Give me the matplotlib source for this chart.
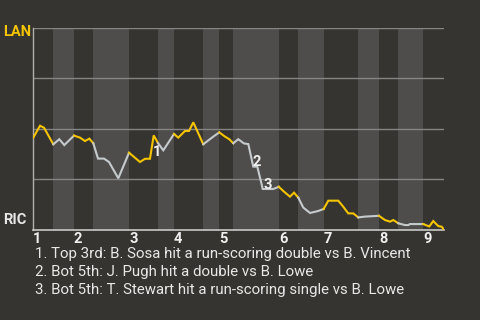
import matplotlib
matplotlib.use("Agg")
import matplotlib.pyplot as plt

# win probability for LAN (%) at each play, x = play number
play = [0, 1.40, 2.24, 4.19, 5.44, 6.49, 8.52, 9.78, 10.82, 11.73, 12.56,
        13.55, 14.80, 15.85, 17.80, 20.04, 22.34, 23.39, 24.43, 25.21, 26.11,
        27.22, 29.46, 30.36, 31.76, 32.60, 33.50, 35.59, 37.69, 38.94, 40.14,
        41.04, 41.88, 42.92, 44.12, 45.02, 46.06, 46.90, 47.82, 48.03, 50.25,
        51.40, 52.49, 53.75, 54.59, 55.49, 56.53, 57.94, 59.67, 60.80, 61.77,
        63.86, 64.91, 65.95, 67.00, 68.05, 69.45, 72.38, 73.64, 74.69, 75.38,
        76.42, 77.83, 78.52, 78.87, 81.66, 82.91, 83.75, 84.80, 85.51, 86.0]
lan_wp = [45.6, 51.5, 50.5, 42.3, 44.8, 41.9, 46.6, 45.6, 43.9, 45.1, 42.8,
          35.2, 35.2, 33.5, 25.4, 38.1, 33.5, 35.1, 35.1, 46.7, 42.9,
          39.3, 47.4, 45.6, 48.9, 48.9, 53.2, 42.3, 46.1, 48.2, 46.1,
          44.8, 42.8, 44.8, 42.7, 42.4, 31.2, 31.2, 22.4, 20.1, 20.1,
          21.2, 18.8, 16.3, 18.3, 15.8, 10.9, 8.2, 9.2, 10.2, 14.3,
          14.3, 11.3, 8.0, 8.0, 6.0, 6.4, 6.8, 4.7, 3.9, 4.7,
          3.1, 2.2, 2.2, 2.7, 2.7, 1.5, 4.2, 1.7, 1.4, 0.0]

# play number where each half inning starts (last value = end of game)
half_bounds = [0, 4.19, 8.52, 12.56, 20.04, 26.11, 29.46, 35.59, 38.94, 41.88,
               51.40, 55.49, 60.80, 68.05, 72.38, 76.42, 81.66, 86.0]
innings = ["1", "2", "3", "4", "5", "6", "7", "8", "9"]

notes = [
    "1. Top 3rd: B. Sosa hit a run-scoring double vs B. Vincent",
    "2. Bot 5th: J. Pugh hit a double vs B. Lowe",
    "3. Bot 5th: T. Stewart hit a run-scoring single vs B. Lowe",
]

bg = "#363430"
band = "#4e4d4b"
yellow = "#f5c400"
grey = "#c5cacd"
plt.rcParams["font.family"] = ["Roboto", "DejaVu Sans"]

fig = plt.figure(figsize=(4.8, 3.2), dpi=100, facecolor=bg)
ax = fig.add_axes([0.0694, 0.2828, 0.8556, 0.6297])
ax.set_facecolor(bg)

# light bands for the bottom halves
for i in range(1, len(half_bounds) - 1, 2):
    ax.axvspan(half_bounds[i], half_bounds[i + 1], color=band, lw=0, zorder=0)

for y in [25, 50, 75, 100]:
    ax.axhline(y, color="#858585", lw=1, zorder=1)

# line coloured by the team at bat
for i in range(len(half_bounds) - 1):
    lo, hi = half_bounds[i], half_bounds[i + 1]
    xs = [p for p in play if lo - 1e-6 <= p <= hi + 1e-6]
    ys = [w for p, w in zip(play, lan_wp) if lo - 1e-6 <= p <= hi + 1e-6]
    ax.plot(xs, ys, color=yellow if i % 2 == 0 else grey, lw=1.5,
            solid_joinstyle="miter", zorder=3)

ax.set_xlim(0, 86)
ax.set_ylim(0, 100)
for s in ["top", "right"]:
    ax.spines[s].set_visible(False)
ax.spines["left"].set_color("#b0b0b0")
ax.spines["bottom"].set_color("#c8c8c8")
ax.spines["left"].set_linewidth(1)
ax.spines["bottom"].set_linewidth(1.2)
ax.set_yticks([])
ax.set_xticks(half_bounds[0:-1:2])
ax.set_xticklabels(innings, fontsize=10.5, fontweight="bold", color="#f0f0f0",
                   ha="left")
ax.tick_params(axis="x", length=0, pad=1.5)

# event markers
ax.text(25.9, 38.5, "1", color="#f0f0f0", fontsize=10.5, fontweight="bold",
        ha="center", va="center", zorder=4)
ax.text(46.84, 33.5, "2", color="#f0f0f0", fontsize=10.5, fontweight="bold",
        ha="center", va="center", zorder=4)
ax.text(49.04, 22.1, "3", color="#f0f0f0", fontsize=10.5, fontweight="bold",
        ha="center", va="center", zorder=4)

fig.text(3 / 480, 1 - 32 / 320, "LAN", color=yellow, fontsize=10.5,
         fontweight="bold", va="center", ha="left")
fig.text(3 / 480, 1 - 220 / 320, "RIC", color="#e6e6e6", fontsize=10.5,
         fontweight="bold", va="center", ha="left")

for k, line in enumerate(notes):
    fig.text(35 / 480, 1 - (258 + 18 * k) / 320, line, color="#e8e8e8",
             fontsize=10.8, va="baseline", ha="left")

fig.savefig("out.png", dpi=100, facecolor=bg)
